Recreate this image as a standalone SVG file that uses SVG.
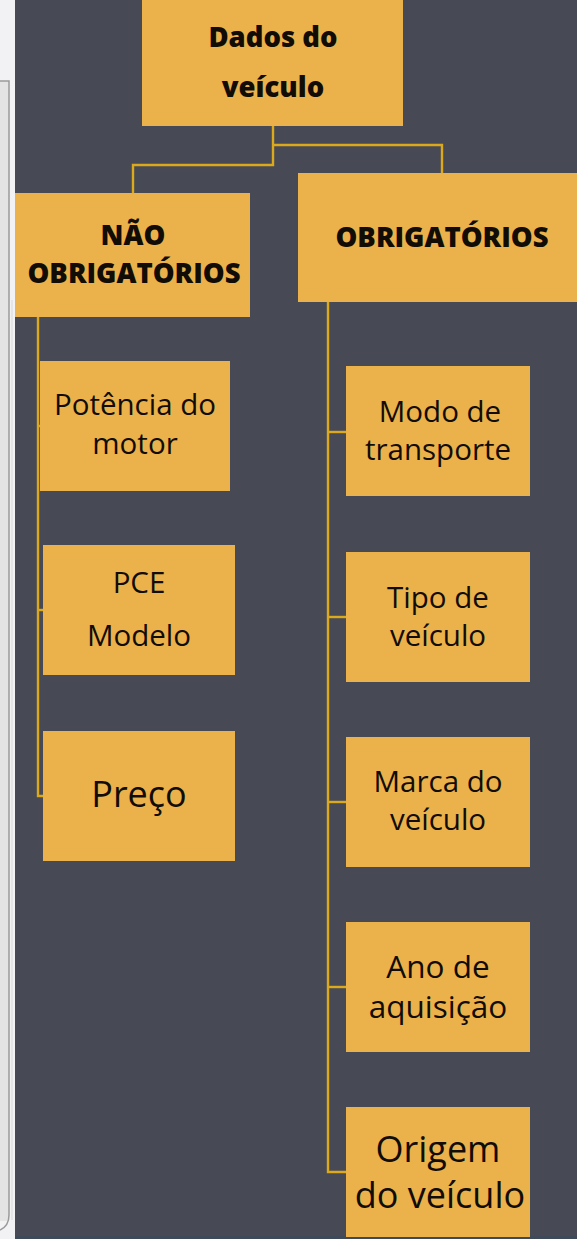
<svg xmlns="http://www.w3.org/2000/svg" width="577" height="1239" viewBox="0 0 577 1239">
<style>
.box{fill:#ebb14b}
.t{font-family:"Open Sans","Noto Sans",sans-serif;fill:#110c05;text-anchor:middle}
.b{font-weight:800;font-size:27.5px}
.r{font-size:29.5px}
.l{font-size:36px}
.ln{fill:none;stroke:#dca81c;stroke-width:2.4}
</style>
<rect x="0" y="0" width="577" height="1239" fill="#474a55"/>
<g id="frame">
<rect x="0" y="0" width="15" height="1239" fill="#f2f2f4"/>
<rect x="0" y="81" width="9" height="1140" fill="#e4e4e4"/>
<path d="M0 81 H9 V1215 Q9 1226 0 1230" fill="none" stroke="#9a9a9a" stroke-width="1.5"/>
<path d="M12 300 V1220" stroke="#d8d8d8" stroke-width="1" fill="none"/>
<rect x="15" y="1236" width="562" height="3" fill="#3e4a5a"/>
</g>
<g id="connectors">
<path class="ln" d="M273 126 V165 H133 V193"/>
<path class="ln" d="M273 145 H442 V173"/>
<path class="ln" d="M38 317 V796 H43"/>
<path class="ln" d="M38 426 H40"/>
<path class="ln" d="M38 610 H43"/>
<path class="ln" d="M328 302 V1172 H346"/>
<path class="ln" d="M328 432 H346"/>
<path class="ln" d="M328 617 H346"/>
<path class="ln" d="M328 802 H346"/>
<path class="ln" d="M328 987 H346"/>
</g>
<g id="dados">
<rect class="box" x="142" y="0" width="261" height="126"/>
<text class="t b" x="273" y="47">Dados do</text>
<text class="t b" x="273" y="97">veículo</text>
</g>
<g id="nao-obrigatorios">
<rect class="box" x="15" y="193" width="235" height="124"/>
<text class="t b" x="133" y="245">NÃO</text>
<text class="t b" x="134" y="283">OBRIGATÓRIOS</text>
</g>
<g id="obrigatorios">
<rect class="box" x="298" y="173" width="279" height="129"/>
<text class="t b" x="442" y="247">OBRIGATÓRIOS</text>
</g>
<g id="potencia">
<rect class="box" x="40" y="361" width="190" height="130"/>
<text class="t r" x="135" y="415">Potência do</text>
<text class="t r" x="135" y="454">motor</text>
</g>
<g id="pce">
<rect class="box" x="43" y="545" width="192" height="130"/>
<text class="t r" x="139" y="593">PCE</text>
<text class="t r" x="139" y="646">Modelo</text>
</g>
<g id="preco">
<rect class="box" x="43" y="731" width="192" height="130"/>
<text class="t l" x="139" y="807">Preço</text>
</g>
<g id="modo">
<rect class="box" x="346" y="366" width="184" height="130"/>
<text class="t r" x="440" y="422">Modo de</text>
<text class="t r" x="438" y="460">transporte</text>
</g>
<g id="tipo">
<rect class="box" x="346" y="552" width="184" height="130"/>
<text class="t r" x="438" y="608">Tipo de</text>
<text class="t r" x="438" y="646">veículo</text>
</g>
<g id="marca">
<rect class="box" x="346" y="737" width="184" height="130"/>
<text class="t r" x="438" y="792">Marca do</text>
<text class="t r" x="438" y="830">veículo</text>
</g>
<g id="ano">
<rect class="box" x="346" y="922" width="184" height="130"/>
<text class="t" style="font-size:31.5px" x="438" y="978">Ano de</text>
<text class="t" style="font-size:31.5px" x="438" y="1018">aquisição</text>
</g>
<g id="origem">
<rect class="box" x="346" y="1107" width="184" height="130"/>
<text class="t l" x="438" y="1162">Origem</text>
<text class="t l" x="440" y="1208">do veículo</text>
</g>
</svg>
